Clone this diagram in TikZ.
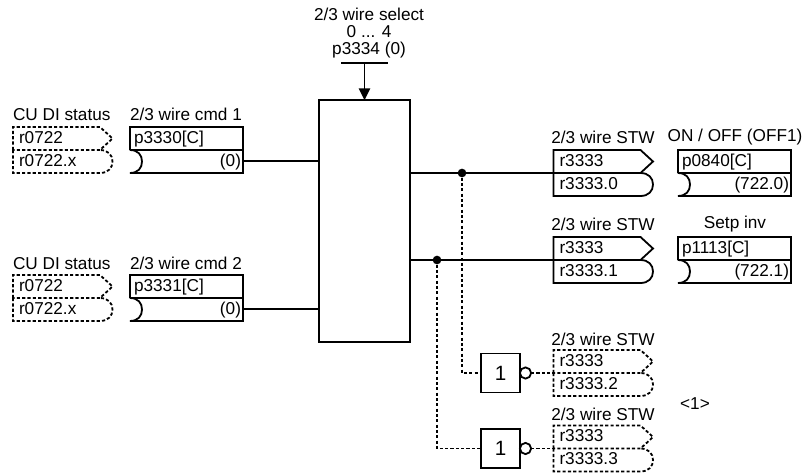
\documentclass[tikz,border=0pt]{standalone}
\usepackage{fontspec}
\setmainfont{Liberation Sans}
\usetikzlibrary{arrows.meta,calc}
\tikzset{
  x=.75pt,y=-.75pt,
  ln/.style={line width=1.35pt,line join=miter},
  dsh/.style={ln,dash pattern=on 2.4pt off 1.6pt},
  lbl/.style={inner sep=0pt,outer sep=0pt,font=\fontsize{12.9}{15}\selectfont,text=black},
  area/.style={inner sep=0pt,outer sep=0pt,minimum width=#1*.75pt,minimum height=17pt},
  dot/.style={circle,fill=black,inner sep=0pt,minimum size=6.5pt},
  gate/.style={ln,draw,inner sep=0pt,outer sep=0pt,minimum width=29.25pt,minimum height=29.25pt,font=\fontsize{15.5}{18}\selectfont},
  inv/.style={ln,draw,circle,inner sep=0pt,outer sep=0pt,minimum size=8.4pt},
}
% name, x, top, text1, text2, line style
\newcommand\srcblk[6]{%
\begin{scope}[shift={(#2,#3)}]
  \draw[#6] (0,23) -- (0,0) -- (87,0) -- (99.5,11.5) -- (87,23) -- cycle;
  \draw[#6] (0,23) -- (0,46) -- (87,46) .. controls (95,46) and (99.5,41) .. (99.5,34.5) .. controls (99.5,28) and (95,23) .. (87,23);
  \node[area=99.5,anchor=north west] (#1U) at (0,0) {};
  \node[area=99.5,anchor=north west] (#1L) at (0,23) {};
  \node[lbl,anchor=base west] (#1a) at (6,16) {#4};
  \node[lbl,anchor=base west] (#1b) at (6,39) {#5};
\end{scope}}
% name, x, top, text1, text2
\newcommand\snkblk[5]{%
\begin{scope}[shift={(#2,#3)}]
  \draw[ln] (0,23) -- (0,0) -- (113,0) -- (113,46) -- (0,46) .. controls (8,46) and (12,41) .. (12,34.5) .. controls (12,28) and (8,23) .. (0,23) -- (113,23);
  \node[area=113,anchor=north west] (#1U) at (0,0) {};
  \node[area=113,anchor=north west] (#1L) at (0,23) {};
  \node[lbl,anchor=base west] (#1a) at (4,16) {#4};
  \node[lbl,anchor=base east] (#1b) at (111,39) {#5};
\end{scope}}
\begin{document}
\begin{tikzpicture}
\useasboundingbox (0,0) rectangle (805,474);
% selector
\node[lbl] (selA) at (369,14.5) {2/3 wire select};
\node[lbl] (selB) at (369,32) {0 ... 4};
\node[lbl] (selC) at (369,50) {p3334 (0)};
\coordinate (barL) at (341,63);
\coordinate (barR) at (388,63);
\draw[ln] (barL) -- (barR);
\node[ln,draw,inner sep=0pt,outer sep=0pt,minimum width=68.25pt,minimum height=181pt] (logic) at (364.5,221) {};
\draw[ln,-{Triangle[length=9pt,width=8.5pt]}] ($(barL)!0.5!(barR)$) -- (logic.north);
% left blocks
\node[lbl,anchor=base west] (t1) at (13,121) {CU DI status};
\node[lbl,anchor=base west] (t2) at (130,121) {2/3 wire cmd 1};
\srcblk{s1}{13}{127}{r0722}{r0722.x}{dsh}
\snkblk{c1}{130}{127}{p3330[C]}{(0)}
\node[lbl,anchor=base west] (t3) at (13,269) {CU DI status};
\node[lbl,anchor=base west] (t4) at (130,269) {2/3 wire cmd 2};
\srcblk{s2}{13}{275}{r0722}{r0722.x}{dsh}
\snkblk{c2}{130}{275}{p3331[C]}{(0)}
\draw[ln] (c1L.east) -- (logic.west |- c1L.east);
\draw[ln] (c2L.east) -- (logic.west |- c2L.east);
% right blocks
\node[lbl] (t5) at (603,137) {2/3 wire STW};
\node[lbl] (t6) at (735,137) {ON / OFF (OFF1)};
\srcblk{o1}{553.5}{150}{r3333}{r3333.0}{ln}
\snkblk{k1}{678}{150}{p0840[C]}{(722.0)}
\node[lbl] (t7) at (603,224) {2/3 wire STW};
\node[lbl] (t8) at (735,224) {Setp inv};
\srcblk{o2}{553.5}{237}{r3333}{r3333.1}{ln}
\snkblk{k2}{678}{237}{p1113[C]}{(722.1)}
\coordinate (o1m) at (o1L.north west);
\coordinate (o2m) at (o2L.north west);
\draw[ln] (logic.east |- o1m) -- (o1m);
\draw[ln] (logic.east |- o2m) -- (o2m);
\node[dot] (j1) at (462,173) {};
\node[dot] (j2) at (437,260) {};
% gates
\node[gate] (g1) at (500.5,373) {1};
\node[gate] (g2) at (500.5,448.5) {1};
\node[inv] (i1) at (525.5,373) {};
\node[inv] (i2) at (525.5,448.5) {};
\node[lbl] (t9) at (603,339) {2/3 wire STW};
\srcblk{o3}{553.5}{350}{r3333}{r3333.2}{dsh}
\node[lbl] (t10) at (603,414) {2/3 wire STW};
\srcblk{o4}{553.5}{425.5}{r3333}{r3333.3}{dsh}
\coordinate (o3m) at (o3L.north west);
\coordinate (o4m) at (o4L.north west);
\draw[dsh] (j1) |- (g1.west);
\draw[dsh] (j2) |- (g2.west);
\draw[dsh] (i1.east) -- (o3m);
\draw[dsh] (i2.east) -- (o4m);
\node[lbl] (note) at (695,404) {<1>};
\end{tikzpicture}
\end{document}
